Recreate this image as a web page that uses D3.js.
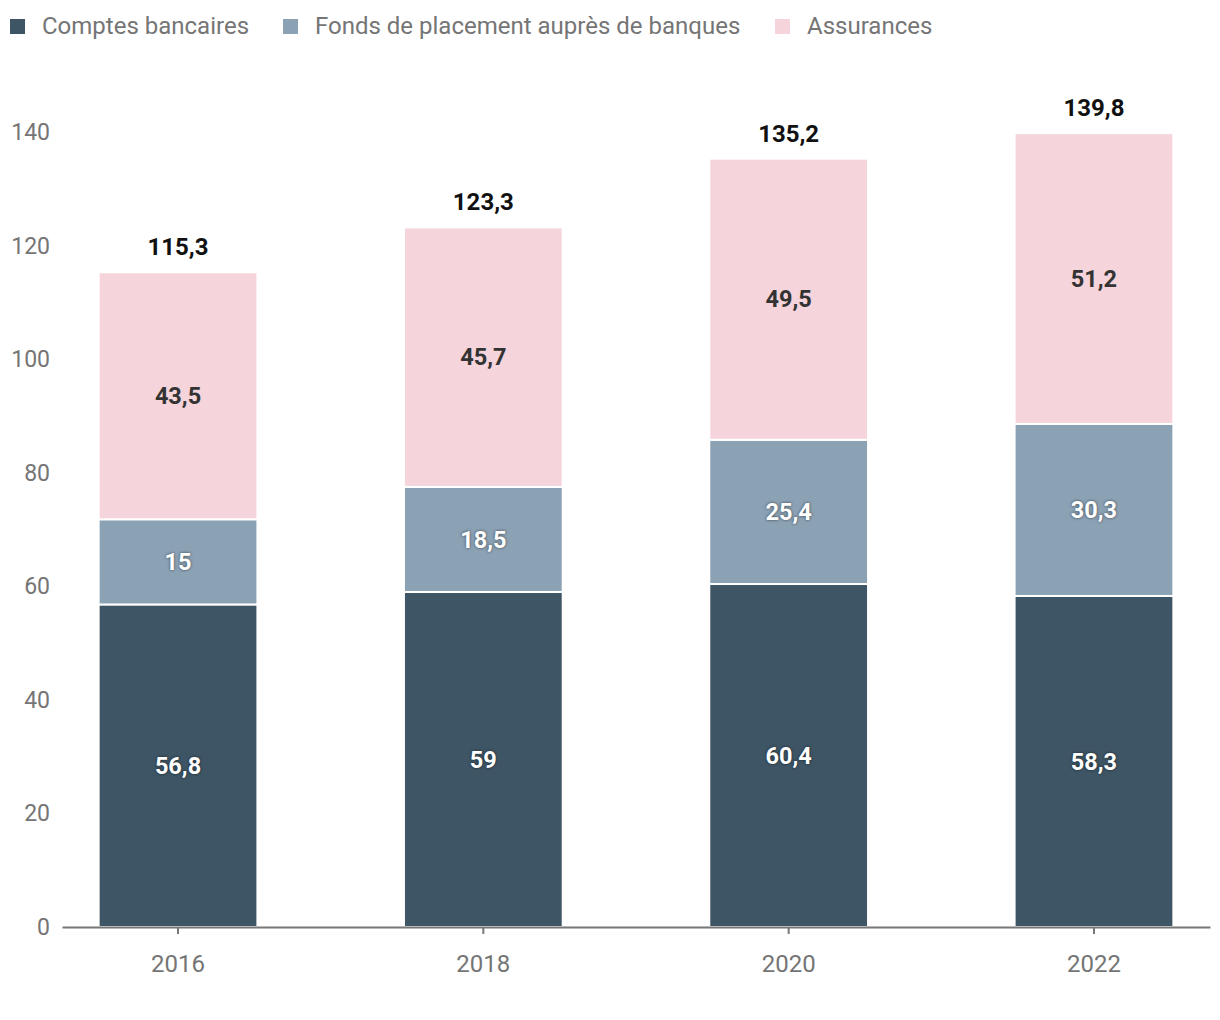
<!DOCTYPE html>
<html>
<head>
<meta charset="utf-8">
<script src="https://cdn.jsdelivr.net/npm/d3@7"></script>
<style>
  body { margin: 0; background: #fff; font-family: Roboto, "Noto Sans", sans-serif; }
  .seg-label { font-weight: 700; font-size: 23.5px; }
  .on-dark { fill: #fff; text-shadow: 0 0 3px rgba(0,0,0,0.6); }
  .on-light { fill: #333; }
</style>
</head>
<body>
<svg id="chart" width="1220" height="1020"></svg>
<script>
// data
var years = ["2016", "2018", "2020", "2022"];
var seriesNames = ["Comptes bancaires", "Fonds de placement auprès de banques", "Assurances"];
var comptes = [56.8, 59, 60.4, 58.3];
var fonds = [15, 18.5, 25.4, 30.3];
var assurances = [43.5, 45.7, 49.5, 51.2];
var totals = [115.3, 123.3, 135.2, 139.8];
var yTicks = [0, 20, 40, 60, 80, 100, 120, 140];

var colors = ["#3e5565", "#8ba1b4", "#f5d4db"];
var labelClass = ["on-dark", "on-dark", "on-light"];

var svg = d3.select("#chart");
var fmt = function (v) { return String(v).replace(".", ","); };

var x = d3.scaleBand().domain(years).range([62, 1210]).paddingInner(0.48).paddingOuter(0.12);
var y = d3.scaleLinear().domain([0, 140]).range([927, 132]);

var rows = years.map(function (yr, i) {
  return { year: yr, s0: comptes[i], s1: fonds[i], s2: assurances[i] };
});
var stack = d3.stack().keys(["s0", "s1", "s2"]);
var layers = stack(rows);

// y tick labels (no axis line)
svg.append("g").selectAll("text")
  .data(yTicks).enter().append("text")
  .attr("x", 50).attr("y", function (d) { return y(d); })
  .attr("dy", "0.35em").attr("text-anchor", "end")
  .attr("fill", "#757575").attr("font-size", 23)
  .text(function (d) { return d; });

// bars
var g = svg.append("g");
layers.forEach(function (layer, li) {
  g.append("g").selectAll("rect")
    .data(layer).enter().append("rect")
    .attr("x", function (d) { return x(d.data.year); })
    .attr("width", x.bandwidth())
    .attr("y", function (d) { return y(d[1]); })
    .attr("height", function (d) { return y(d[0]) - y(d[1]); })
    .attr("fill", colors[li])
    .attr("stroke", "#fff").attr("stroke-width", 2);

  g.append("g").selectAll("text")
    .data(layer).enter().append("text")
    .attr("class", "seg-label " + labelClass[li])
    .attr("x", function (d) { return x(d.data.year) + x.bandwidth() / 2; })
    .attr("y", function (d) { return (y(d[0]) + y(d[1])) / 2; })
    .attr("dy", "0.35em").attr("text-anchor", "middle")
    .text(function (d) { return fmt(+(d[1] - d[0]).toFixed(1)); });
});

// totals
svg.append("g").selectAll("text")
  .data(years).enter().append("text")
  .attr("x", function (d) { return x(d) + x.bandwidth() / 2; })
  .attr("y", function (d, i) { return y(totals[i]) - 17; })
  .attr("text-anchor", "middle")
  .attr("font-weight", 700).attr("font-size", 24).attr("fill", "#111")
  .text(function (d, i) { return fmt(totals[i]); });

// x axis
var xAxis = svg.append("g").attr("transform", "translate(0,927)")
  .call(d3.axisBottom(x).tickSize(7).tickSizeOuter(0).tickPadding(21));
xAxis.select(".domain").attr("stroke", "#777").attr("stroke-width", 2);
xAxis.selectAll(".tick line").attr("stroke", "#777").attr("stroke-width", 2);
xAxis.selectAll(".tick text").attr("fill", "#757575").attr("font-size", 24)
  .attr("font-family", "Roboto, sans-serif");

// legend
var legendX = [10, 283, 775];
var legend = svg.append("g").selectAll("g")
  .data(seriesNames).enter().append("g")
  .attr("transform", function (d, i) { return "translate(" + legendX[i] + ",0)"; });
legend.append("rect").attr("x", 0).attr("y", 19).attr("width", 15).attr("height", 15)
  .attr("fill", function (d, i) { return colors[i]; });
legend.append("text").attr("x", 32).attr("y", 26).attr("dy", "0.35em")
  .attr("fill", "#757575").attr("font-size", 24)
  .text(function (d) { return d; });
</script>
</body>
</html>
